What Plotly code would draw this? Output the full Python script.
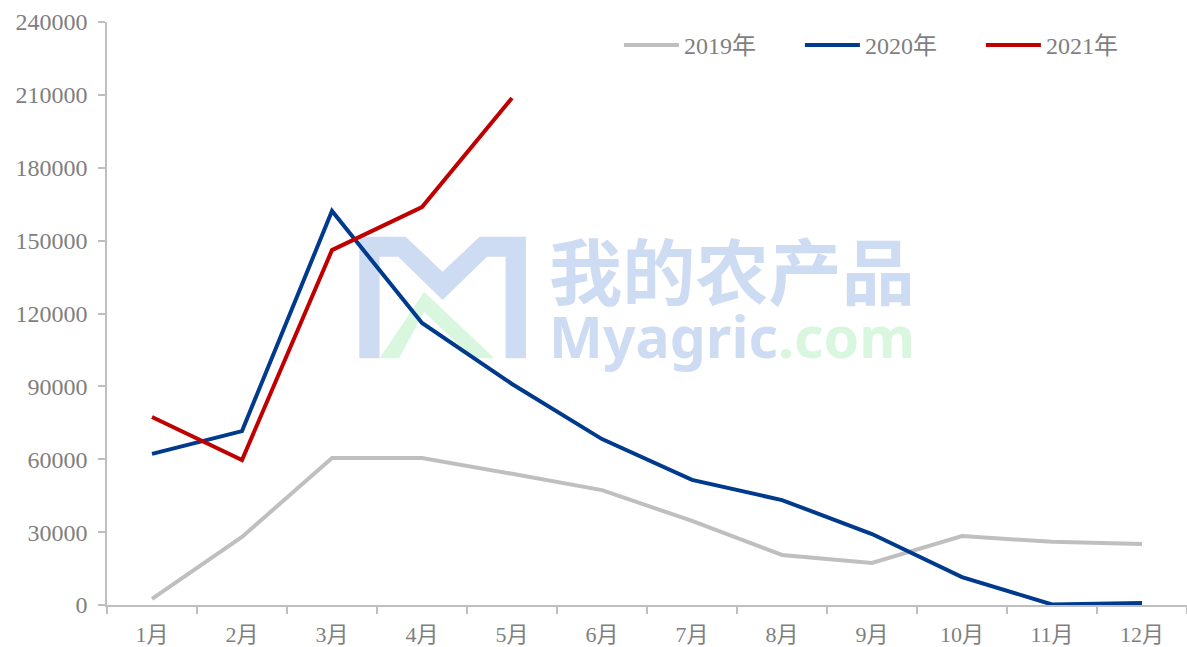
import base64
import plotly.graph_objects as go

months = ["1月", "2月", "3月", "4月", "5月", "6月", "7月", "8月", "9月", "10月", "11月", "12月"]
y2019 = [2500, 28000, 60500, 60500, 54000, 47300, 34600, 20600, 17300, 28400, 26000, 25100]
y2020 = [62200, 71600, 162200, 116100, 91000, 68300, 51500, 43200, 29200, 11500, 200, 800]
y2021 = [77400, 59700, 146100, 163800, 208700]
y_ticks = [0, 30000, 60000, 90000, 120000, 150000, 180000, 210000, 240000]

series = [
    ("2019年", y2019, "#BFBFBF"),
    ("2020年", y2020, "#003A8C"),
    ("2021年", y2021, "#C00000"),
]

# faint watermark (drawn below the data)
wm_blue = "#CEDCF3"
wm_green = "#D9F7DF"
svg = f'''<svg xmlns="http://www.w3.org/2000/svg" width="565" height="148" viewBox="0 0 565 148">
<polygon points="4.3,4.7 50.6,4.7 87.6,39.7 124.6,4.7 170.9,4.7 170.9,126.3 150.6,126.3 150.6,24.7 132,24.7 87.6,68 43.1,24.7 24.6,24.7 24.6,126.3 4.3,126.3" fill="{wm_blue}"/>
<polygon points="24.6,126.3 69,59.7 139.4,126.3 118,126.3 69,80 44,126.3" fill="{wm_green}"/>
<text x="194" y="67" font-family="Noto Sans CJK SC" font-weight="700" font-size="72" fill="{wm_blue}" textLength="366" lengthAdjust="spacingAndGlyphs">我的农产品</text>
<text x="194" y="126" font-family="Noto Sans" font-weight="700" font-size="57" textLength="366" lengthAdjust="spacingAndGlyphs"><tspan fill="{wm_blue}">Myagric</tspan><tspan fill="{wm_green}">.com</tspan></text>
</svg>'''
svg_uri = "data:image/svg+xml;base64," + base64.b64encode(svg.encode("utf-8")).decode("ascii")

fig = go.Figure()
for name, vals, color in series:
    fig.add_trace(go.Scatter(
        x=months[:len(vals)], y=vals, name=name, mode="lines",
        line=dict(color=color, width=4),
    ))

font_family = "Liberation Serif, Times New Roman, Noto Sans CJK SC, serif"
axis_color = "#BFBFBF"
text_color = "#7F7F7F"

fig.update_layout(
    width=1187, height=647,
    margin=dict(l=107, r=0, t=22, b=42),
    paper_bgcolor="white",
    plot_bgcolor="rgba(0,0,0,0)",
    font=dict(family=font_family, size=24, color=text_color),
    showlegend=True,
    legend=dict(
        orientation="h", x=0.474, y=0.96, xanchor="left", yanchor="middle",
        font=dict(family=font_family, size=24, color=text_color),
        bgcolor="rgba(0,0,0,0)", itemwidth=55,
        entrywidth=111, entrywidthmode="pixels",
    ),
    images=[dict(
        source=svg_uri, xref="paper", yref="paper",
        x=(355 - 107) / 1080, y=(605 - 232) / 583,
        sizex=565 / 1080, sizey=148 / 583,
        xanchor="left", yanchor="top", sizing="stretch", layer="below",
    )],
)
fig.update_xaxes(
    type="category", categoryorder="array", categoryarray=months,
    range=[-0.5, 11.5],
    showline=True, linecolor=axis_color, linewidth=1.5,
    ticks="outside", tickson="boundaries", ticklen=7, tickcolor=axis_color, tickwidth=1.5,
    showgrid=False, zeroline=False, ticklabelstandoff=9,
    tickfont=dict(size=22),
)
fig.update_yaxes(
    range=[0, 240000], tickvals=y_ticks, ticktext=[str(v) for v in y_ticks],
    showline=True, linecolor=axis_color, linewidth=1.5,
    ticks="outside", ticklen=7, tickcolor=axis_color, tickwidth=1.5,
    showgrid=False, zeroline=False, ticklabelstandoff=6,
)

fig.write_html(
    "out.html",
    config={"displayModeBar": False},
    post_script="document.body.style.margin='0';document.body.style.overflow='hidden';"
                "document.documentElement.style.overflow='hidden';",
)
